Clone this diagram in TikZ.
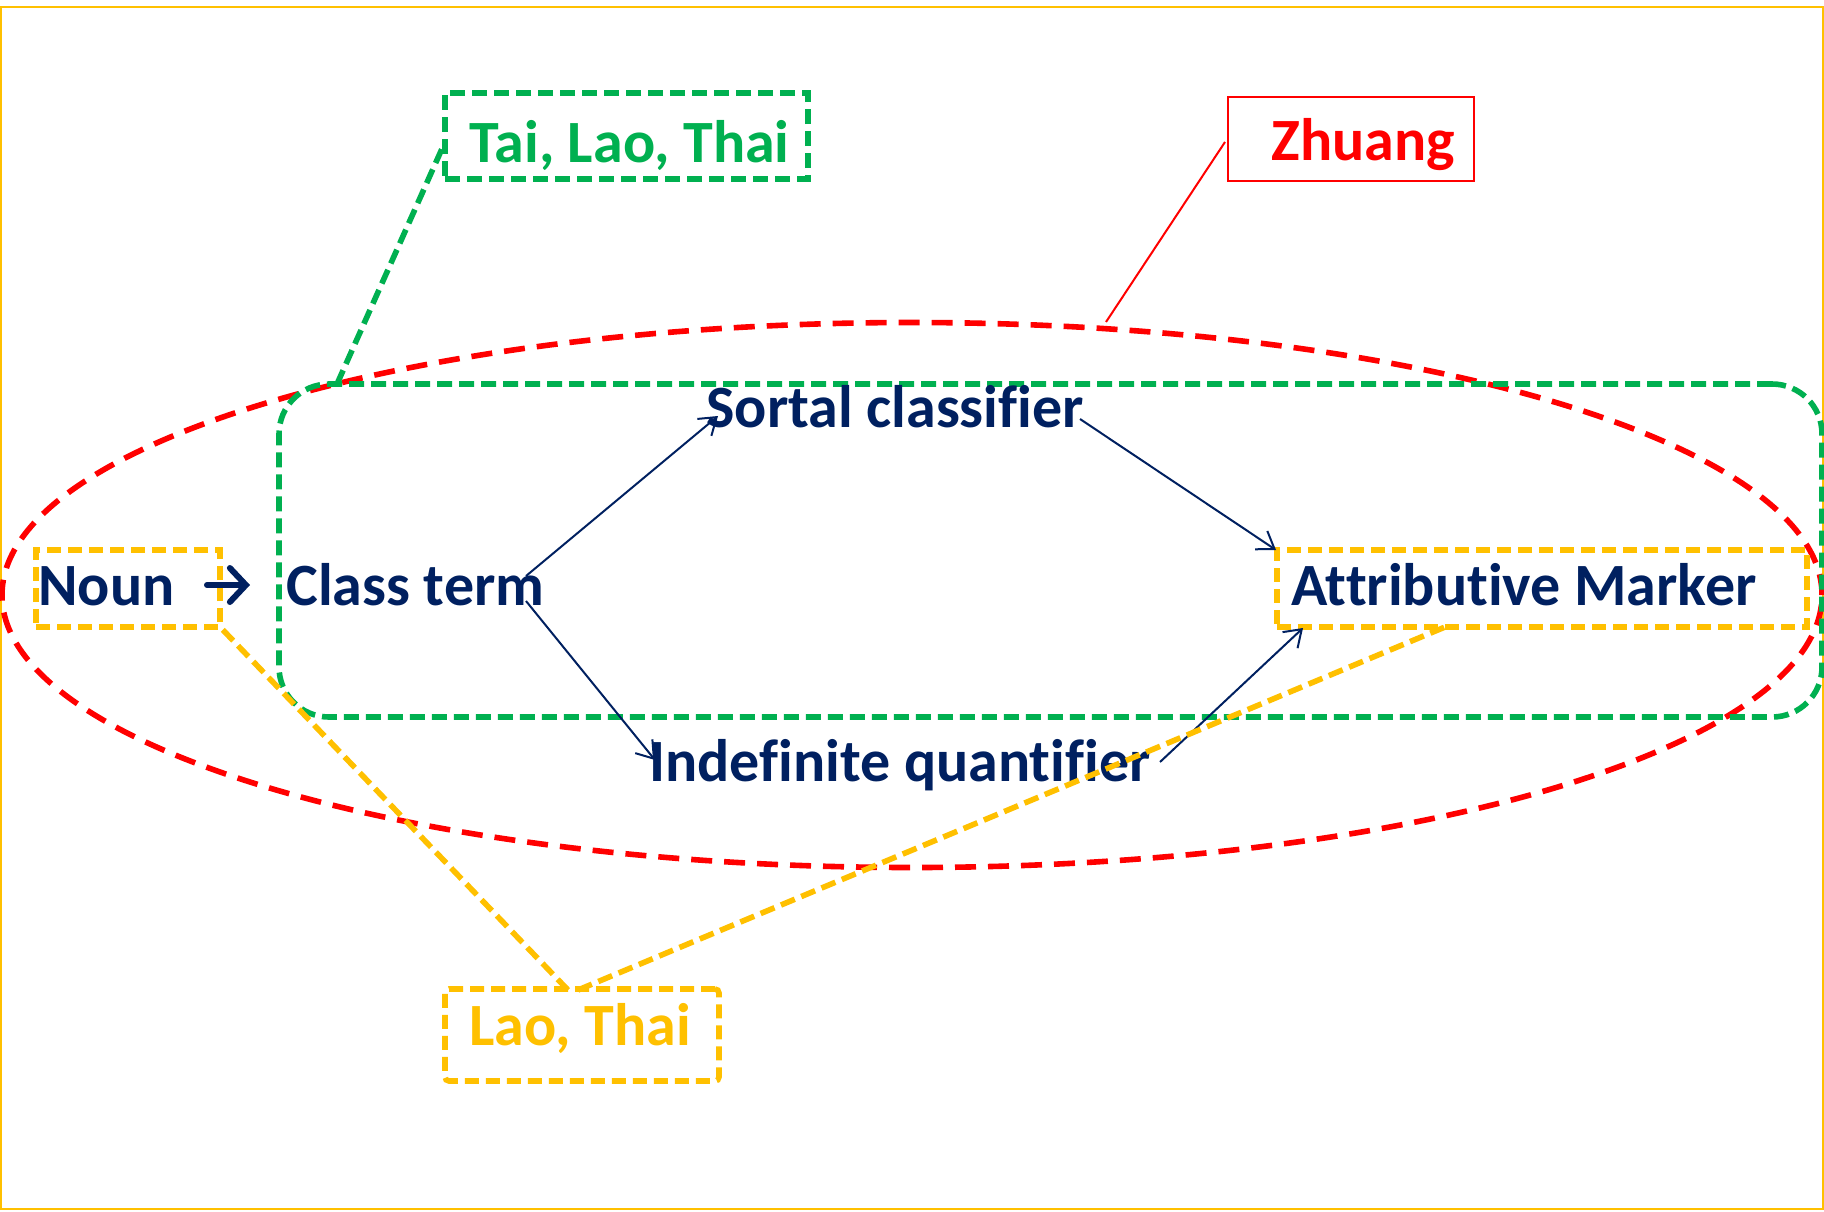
\documentclass[tikz,border=0pt]{standalone}
\usepackage{fontspec}
\setmainfont{Carlito}[Ligatures={NoCommon,NoRare,NoContextual}]
\usetikzlibrary{arrows.meta,shapes.geometric,fit,calc}
\definecolor{navy}{HTML}{002060}
\definecolor{tgreen}{HTML}{00B050}
\definecolor{tyellow}{HTML}{FFC000}
\definecolor{tred}{HTML}{FF0000}
\begin{document}
\begin{tikzpicture}[x=0.5pt,y=-0.5pt,
  lbl/.style={font=\fontsize{30}{36}\selectfont\bfseries, inner sep=0, anchor=base west},
  ybox/.style={draw=tyellow, line width=2.8pt, dash pattern=on 7pt off 3.5pt, inner sep=0},
  gbox/.style={draw=tgreen, line width=2.8pt, dash pattern=on 7.5pt off 3.5pt, inner sep=0},
  ylink/.style={draw=tyellow, line width=2.8pt, dash pattern=on 7.5pt off 3.5pt},
  link/.style={draw=navy, line width=1pt, -{Straight Barb[length=8pt,width=11pt]}},
]
\useasboundingbox (0,0) rectangle (1824,1211);
\draw[tyellow, line width=1pt] (1,7) rectangle (1823,1209);

% big red ellipse
\node[ellipse, draw=tred, line width=2.8pt, dash pattern=on 10.5pt off 6pt,
      minimum width=910pt, minimum height=272.5pt, inner sep=0] (ell) at (912,595) {};
% green group
\node[gbox, rounded corners=25pt, fit={(279,384) (1822,717)}] (grp) {};

% boxes
\node[ybox, fit={(36,550) (220,627)}] (nounbox) {};
\node[ybox, fit={(1277,550) (1807,627)}] (attrbox) {};
\node[ybox, rounded corners=2pt, fit={(445,989) (719,1081)}] (laobox) {};
\node[gbox, fit={(445,93) (808,179)}] (taibox) {};
\node[draw=tred, line width=1pt, inner sep=0, fit={(1228,97) (1474,181)}] (zbox) {};

% texts
\node[lbl, text=navy] (noun) at (38,605) {Noun};
\node[lbl, text=navy] (class) at (286,605) {Class term};
\node[lbl, text=navy] (sortal) at (706,427) {Sortal classifier};
\node[lbl, text=navy] (indef) at (649,781) {Indefinite quantifier};
\node[lbl, text=navy] (attr) at (1291,605) {Attributive Marker};
\node[lbl, text=tgreen] (tai) at (469,162) {Tai, Lao, Thai};
\node[lbl, text=tred] (zh) at (1271,160) {Zhuang};
\node[lbl, text=tyellow] (lao) at (469,1045) {Lao, Thai};

% noun -> arrow
\coordinate (na) at (207,585);
\coordinate (nb) at (250,585);
\draw[navy, line width=3pt, line cap=round,
      -{Straight Barb[length=8pt,width=17pt,line cap=round]}] (na) -- (nb);

% navy links
\coordinate (c1) at (526,576);
\coordinate (s1) at (718,416);
\coordinate (c2) at (526,601);
\coordinate (i1) at (655,760);
\coordinate (s2) at (1080,419);
\coordinate (a1) at (1276,550);
\coordinate (i2) at (1160,762);
\coordinate (a2) at (1303,628);
\draw[link] (c1) -- (s1);
\draw[link] (c2) -- (i1);
\draw[link] (s2) -- (a1);
\draw[link] (i2) -- (a2);

% callout connectors
\coordinate (l1) at (568,990);
\coordinate (l2) at (578,990);
\coordinate (ab) at (1445,627);
\draw[ylink] (nounbox.south east) -- (l1);
\draw[ylink] (l2) -- (ab);
\coordinate (g1) at (337,384);
\coordinate (t1) at (445,142);
\draw[draw=tgreen, line width=2.8pt, dash pattern=on 7.5pt off 3.5pt] (g1) -- (t1);
\coordinate (e1) at (1106,322);
\coordinate (z1) at (1225,142);
\draw[tred, line width=1pt] (e1) -- (z1);
\end{tikzpicture}
\end{document}
